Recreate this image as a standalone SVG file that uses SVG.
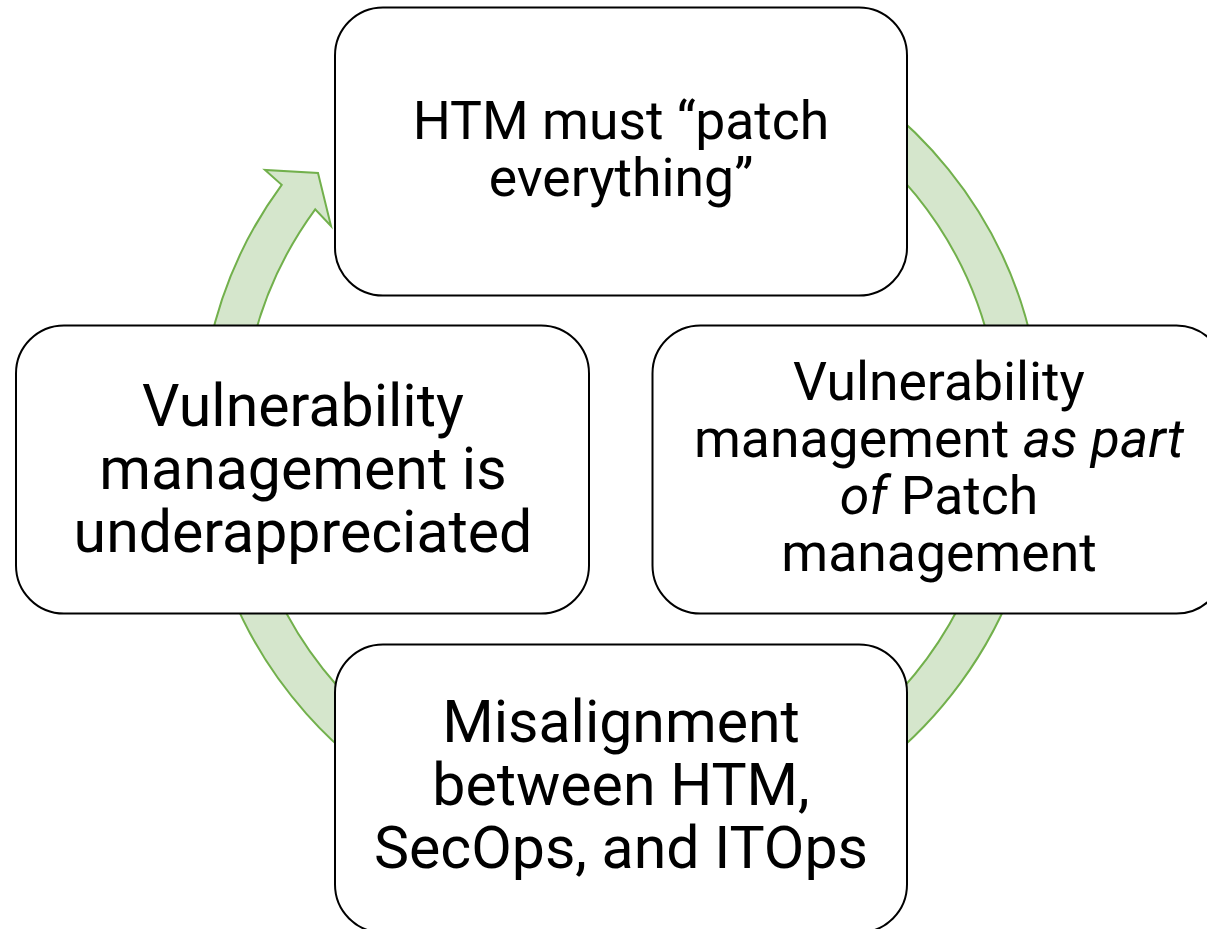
<svg xmlns="http://www.w3.org/2000/svg" width="1207" height="929" viewBox="0 0 1207 929">
<style>
.node rect{fill:#ffffff;stroke:#000000;stroke-width:2}
.band{fill:#d5e6cc;stroke:#72b04c;stroke-width:2;stroke-linejoin:miter}
text{font-family:Roboto,"Liberation Sans",sans-serif;fill:#000000;text-anchor:middle}
.s53{font-size:53.5px}
.s58{font-size:59px}
</style>
<rect width="1207" height="929" fill="#ffffff"/>
<g id="connectors">
<path class="band" d="M621,13 A421,421 0 1 1 281.7,184.8 L265,170 L318,173 L331,226 L315.2,209.3 A379.5,379.5 0 1 0 621,54.5 Z"/>
</g>
<g id="node-top" class="node">
<rect x="335" y="7.5" width="572" height="288" rx="48" ry="48"/>
<text class="s53" x="621" y="139">HTM must “patch</text>
<text class="s53" x="621" y="196">everything”</text>
</g>
<g id="node-right" class="node">
<rect x="652.5" y="325.5" width="572" height="288" rx="48" ry="48"/>
<text class="s53" x="939" y="400">Vulnerability</text>
<text class="s53" x="939" y="457">management <tspan font-style="italic">as part</tspan></text>
<text class="s53" x="939" y="514"><tspan font-style="italic">of</tspan> Patch</text>
<text class="s53" x="939" y="571">management</text>
</g>
<g id="node-bottom" class="node">
<rect x="335" y="644.5" width="572" height="288" rx="48" ry="48"/>
<text class="s58" x="621" y="742">Misalignment</text>
<text class="s58" x="621" y="805">between HTM,</text>
<text class="s58" x="621" y="868">SecOps, and ITOps</text>
</g>
<g id="node-left" class="node">
<rect x="16" y="325.5" width="573" height="288" rx="48" ry="48"/>
<text class="s58" x="303" y="426">Vulnerability</text>
<text class="s58" x="303" y="489">management is</text>
<text class="s58" x="303" y="552">underappreciated</text>
</g>
</svg>
